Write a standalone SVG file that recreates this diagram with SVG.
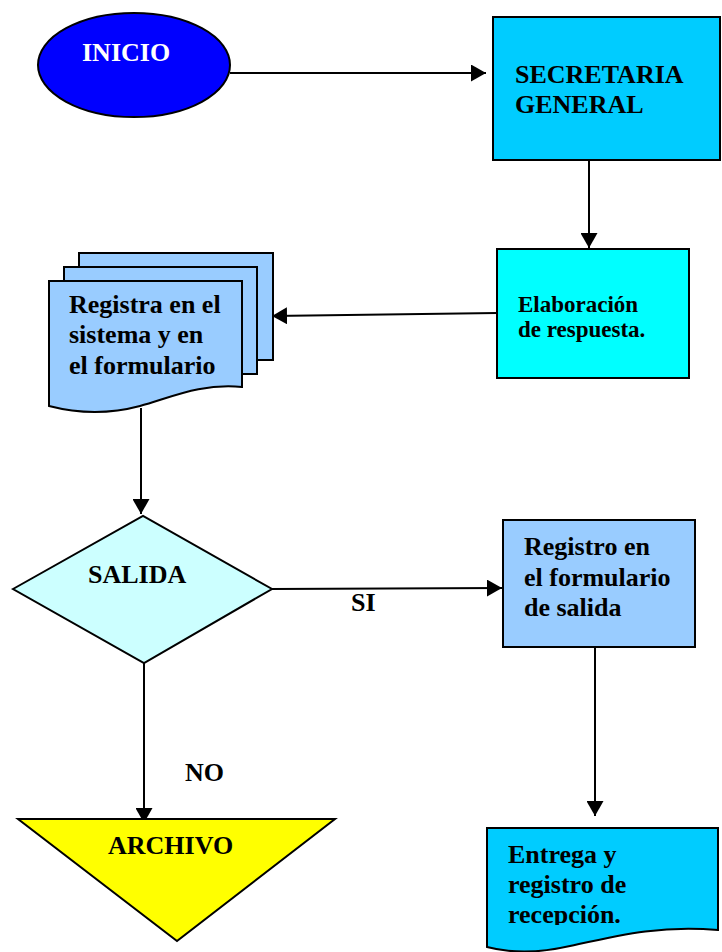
<svg xmlns="http://www.w3.org/2000/svg" width="722" height="952" viewBox="0 0 722 952">
<style>
.s{stroke:#000;stroke-width:2}
.t{font-family:"Liberation Serif","Times New Roman",serif;font-weight:bold;font-size:26px;fill:#000}
.c{stroke:#000;stroke-width:2;fill:none}
</style>
<defs>
<marker id="ah" viewBox="0 0 15 17" refX="15" refY="8.5" markerWidth="7.5" markerHeight="8.5" markerUnits="strokeWidth" orient="auto">
<path d="M0,0 L15,8.5 L0,17 Z" fill="#000"/>
</marker>
<clipPath id="clipE"><rect x="480" y="828" width="242" height="97"/></clipPath>
</defs>
<rect width="722" height="952" fill="#fff"/>
<g id="connectors">
<line class="c" x1="230" y1="73" x2="486" y2="73" marker-end="url(#ah)"/>
<line class="c" x1="589" y1="145" x2="589" y2="248" marker-end="url(#ah)"/>
<line class="c" x1="497" y1="313" x2="272" y2="316" marker-end="url(#ah)"/>
<line class="c" x1="141" y1="408" x2="141" y2="514" marker-end="url(#ah)"/>
<line class="c" x1="272" y1="589" x2="502" y2="588" marker-end="url(#ah)"/>
<line class="c" x1="144" y1="663" x2="144" y2="823" marker-end="url(#ah)"/>
<line class="c" x1="595" y1="647" x2="595" y2="816" marker-end="url(#ah)"/>
</g>
<g id="inicio">
<ellipse class="s" cx="134" cy="65" rx="96" ry="52" fill="#0000FF"/>
<text class="t" x="82" y="61" style="fill:#fff">INICIO</text>
</g>
<g id="secretaria">
<rect class="s" x="493" y="17" width="227" height="143" fill="#00CCFF"/>
<text class="t" x="515" y="83">SECRETARIA</text>
<text class="t" x="515" y="113">GENERAL</text>
</g>
<g id="elaboracion">
<rect class="s" x="497" y="249" width="192" height="129" fill="#00FFFF"/>
<text class="t" x="518" y="312" style="font-size:23px">Elaboración</text>
<text class="t" x="518" y="337" style="font-size:23px">de respuesta.</text>
</g>
<g id="registra">
<rect class="s" x="79" y="253" width="194" height="107" fill="#99CCFF"/>
<rect class="s" x="64" y="267" width="193" height="107" fill="#99CCFF"/>
<path class="s" d="M49,281 H242 V387 C200,383 170,398 140,406 C110,414 80,414 49,406 Z" fill="#99CCFF"/>
<text class="t" x="69" y="313">Registra en el</text>
<text class="t" x="69" y="343">sistema y en</text>
<text class="t" x="69" y="374">el formulario</text>
</g>
<g id="salida">
<polygon class="s" points="13,589 143,516 272,589 144,663" fill="#CCFFFF"/>
<text class="t" x="88" y="583">SALIDA</text>
</g>
<g id="label-si">
<text class="t" x="351" y="611">SI</text>
</g>
<g id="registro">
<rect class="s" x="503" y="520" width="192" height="127" fill="#99CCFF"/>
<text class="t" x="524" y="555">Registro en</text>
<text class="t" x="524" y="586">el formulario</text>
<text class="t" x="524" y="616">de salida</text>
</g>
<g id="label-no">
<text class="t" x="185" y="781">NO</text>
</g>
<g id="archivo">
<polygon class="s" points="18,819 335,819 177,941" fill="#FFFF00"/>
<text class="t" x="108" y="854">ARCHIVO</text>
</g>
<g id="entrega">
<path class="s" d="M487,828 H718 V930 C660,925 620,935 570,946 C540,953 510,953 487,947 Z" fill="#00CCFF"/>
<g clip-path="url(#clipE)">
<text class="t" x="508" y="863">Entrega y</text>
<text class="t" x="508" y="893">registro de</text>
<text class="t" x="508" y="923">recepción.</text>
</g>
</g>
</svg>
